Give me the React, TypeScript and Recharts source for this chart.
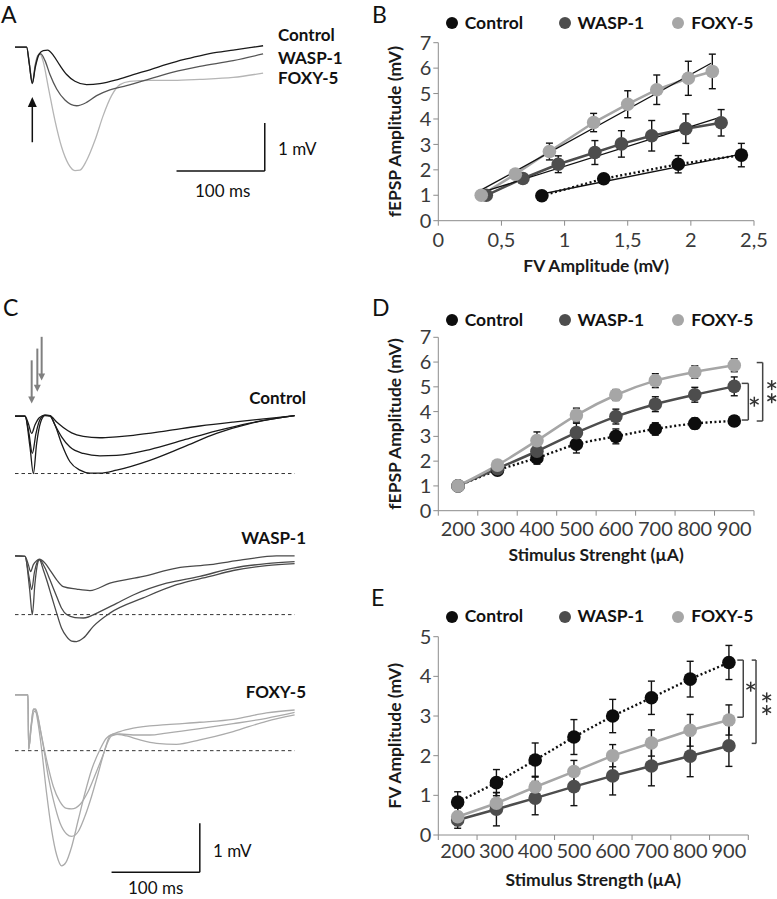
import { LineChart, Line, XAxis, YAxis, ErrorBar, ReferenceLine, ReferenceDot } from 'recharts';

const FONT = 'Lato, "Open Sans", sans-serif';
const BLACK = '#0d0d0d';
const DARK = '#4d4d4d';
const LIGHT = '#a6a6a6';
const AXIS = '#8c8c8c';
const TICK_TXT = '#3a3a3a';

// ---- panel A traces: [ms, mV]
const A_CONTROL = [[0,0],[13.2,0],[16.2,-0.35],[19.6,-0.75],[23,-0.42],[27.5,-0.14],[32,-0.07],[37,-0.06],[43.4,-0.17],[50.9,-0.38],[58.5,-0.57],[67.9,-0.71],[81.1,-0.78],[96.2,-0.76],[115.1,-0.68],[134,-0.57],[152.8,-0.47],[171.7,-0.36],[190.6,-0.26],[209.4,-0.18],[228.3,-0.11],[247.2,-0.06],[266,-0.01],[281.1,0.03]];
const A_WASP = [[0,0],[13.2,0],[16.2,-0.35],[19.6,-0.76],[23,-0.38],[26.4,-0.17],[29.1,-0.14],[34,-0.28],[39.6,-0.57],[47.2,-0.87],[56.6,-1.1],[69.8,-1.22],[81.1,-1.15],[92.5,-1.01],[107.5,-0.89],[126.4,-0.8],[152.8,-0.66],[179.2,-0.52],[209.4,-0.4],[247.2,-0.28],[281.1,-0.14]];
const A_FOXY = [[0,0],[13.2,0],[16.2,-0.31],[19.6,-0.73],[23,-0.35],[25.7,-0.17],[28.3,-0.14],[32.1,-0.31],[37.7,-0.83],[45.3,-1.53],[52.8,-2.08],[60.4,-2.43],[67.9,-2.57],[73.6,-2.56],[81.1,-2.36],[90.6,-1.94],[100,-1.42],[109.4,-1.01],[118.9,-0.78],[130.2,-0.71],[152.8,-0.69],[179.2,-0.69],[209.4,-0.67],[247.2,-0.63],[281.1,-0.54]];

// ---- panel C traces (three stimulus strengths per group)
const C_CTRL_1 = [[0,0],[11.3,0],[15.1,-0.15],[18.9,-0.35],[22.6,-0.18],[27.5,-0.03],[34,0.02],[39.6,0.01],[47.2,-0.12],[54.7,-0.23],[64.2,-0.34],[77.4,-0.41],[96.2,-0.44],[115.1,-0.42],[134,-0.39],[171.7,-0.3],[209.4,-0.2],[247.2,-0.12],[284.9,-0.05],[317,0.01]];
const C_CTRL_2 = [[0,0],[11.3,0],[15.8,-0.35],[19.6,-0.76],[23.8,-0.35],[28.3,-0.07],[34,0.02],[39.6,0.01],[45.3,-0.18],[52.8,-0.42],[62.3,-0.63],[77.4,-0.76],[96.2,-0.81],[115.1,-0.8],[152.8,-0.68],[190.6,-0.49],[228.3,-0.3],[266,-0.14],[317,0.01]];
const C_CTRL_3 = [[0,0],[11.3,0],[17,-0.63],[20.8,-1.17],[24.5,-0.56],[29.1,-0.12],[34,0.01],[39.6,0],[45.3,-0.18],[52.8,-0.56],[62.3,-0.93],[73.6,-1.1],[84.9,-1.16],[96.2,-1.16],[115.1,-1.1],[152.8,-0.9],[190.6,-0.63],[228.3,-0.35],[266,-0.15],[317,0.01]];
const C_WASP_1 = [[0,0],[11.3,-0.01],[15.1,-0.18],[17.7,-0.32],[20.8,-0.18],[24.5,-0.1],[27.5,-0.07],[34,-0.15],[39.6,-0.29],[47.2,-0.49],[54.7,-0.63],[69.8,-0.68],[84.9,-0.71],[107.5,-0.56],[145.3,-0.42],[183,-0.25],[220.8,-0.18],[258.5,-0.08],[296.2,0],[317,0]];
const C_WASP_2 = [[0,0],[11.3,-0.01],[15.8,-0.42],[18.9,-0.69],[21.9,-0.35],[25.3,-0.12],[27.5,-0.08],[34,-0.25],[39.6,-0.49],[47.2,-0.83],[52.8,-1.07],[58.5,-1.2],[67.9,-1.26],[77.4,-1.27],[96.2,-1.14],[115.1,-0.97],[134,-0.8],[171.7,-0.56],[209.4,-0.42],[247.2,-0.25],[284.9,-0.16],[317,-0.12]];
const C_WASP_3 = [[0,0],[11.3,-0.01],[16.6,-0.69],[19.6,-1.2],[22.6,-0.56],[25.7,-0.15],[27.5,-0.08],[32.1,-0.29],[35.8,-0.49],[41.5,-0.83],[47.2,-1.17],[52.8,-1.48],[58.5,-1.65],[64.2,-1.74],[69.8,-1.75],[77.4,-1.68],[88.7,-1.44],[107.5,-1.17],[145.3,-0.86],[183,-0.59],[220.8,-0.42],[247.2,-0.3],[284.9,-0.2],[317,-0.16]];
const C_FOXY_1 = [[0,0],[14.7,0],[15.5,-1.11],[18.1,-0.65],[20.8,-0.31],[23.4,-0.29],[26.4,-0.48],[30.2,-0.85],[35.8,-1.33],[43.4,-1.87],[50.9,-2.18],[58.5,-2.32],[64.2,-2.33],[73.6,-2.24],[83,-1.97],[92.5,-1.56],[100,-1.22],[107.5,-0.84],[118.9,-0.75],[134,-0.68],[171.7,-0.61],[209.4,-0.56],[247.2,-0.5],[284.9,-0.37],[317,-0.31]];
const C_FOXY_2 = [[0,0],[14.7,0],[15.5,-1.11],[18.5,-0.65],[21.9,-0.34],[24.5,-0.37],[28.3,-0.68],[32.1,-1.05],[37.7,-1.67],[43.4,-2.14],[50.9,-2.61],[58.5,-2.84],[64.2,-2.89],[71.7,-2.79],[79.2,-2.48],[86.8,-2.07],[94.3,-1.6],[101.9,-1.12],[109.4,-0.84],[118.9,-0.8],[134,-0.82],[152.8,-0.82],[171.7,-0.78],[209.4,-0.69],[247.2,-0.59],[284.9,-0.48],[317,-0.36]];
const C_FOXY_3 = [[0,0],[14.7,0],[15.5,-1.11],[18.5,-0.61],[20.8,-0.29],[23,-0.31],[26.4,-0.61],[30.2,-1.12],[35.8,-2.01],[41.5,-2.76],[47.2,-3.27],[52.8,-3.49],[57.7,-3.42],[64.2,-3.1],[71.7,-2.55],[79.2,-2.01],[86.8,-1.53],[96.2,-1.12],[103.8,-0.88],[113.2,-0.8],[126.4,-0.84],[141.5,-0.92],[160.4,-0.99],[183,-1.01],[209.4,-0.92],[247.2,-0.75],[284.9,-0.54],[317,-0.41]];

// ---- panel B: fEPSP vs FV
const B_CTRL_X = [0.82, 1.31, 1.9, 2.4];
const B_CTRL_Y = [0.98, 1.65, 2.22, 2.58];
const B_CTRL_E = [0.05, 0.1, 0.34, 0.46];
const B_WASP_X = [0.38, 0.67, 0.95, 1.24, 1.45, 1.69, 1.96, 2.24];
const B_WASP_Y = [1.0, 1.66, 2.22, 2.68, 3.02, 3.34, 3.62, 3.85];
const B_WASP_E = [0.05, 0.1, 0.33, 0.47, 0.52, 0.6, 0.58, 0.52];
const B_FOXY_X = [0.34, 0.61, 0.88, 1.23, 1.5, 1.73, 1.98, 2.17];
const B_FOXY_Y = [1.0, 1.83, 2.72, 3.86, 4.58, 5.15, 5.6, 5.87];
const B_FOXY_E = [0.05, 0.1, 0.33, 0.36, 0.53, 0.58, 0.67, 0.68];
const B_FIT_CTRL = [[0.82, 1.05], [2.4, 2.62]];
const B_FIT_WASP = [[0.36, 1.14], [2.23, 4.06]];
const B_FIT_FOXY = [[0.33, 1.18], [2.16, 6.19]];

// ---- panels D and E: stimulus strength (µA)
const STIM = [200, 300, 400, 500, 600, 700, 800, 900];
const D_CTRL = [1.0, 1.63, 2.13, 2.68, 3.0, 3.3, 3.52, 3.62];
const D_CTRL_E = [0.05, 0.1, 0.25, 0.35, 0.3, 0.25, 0.22, 0.2];
const D_WASP = [1.0, 1.7, 2.4, 3.15, 3.8, 4.3, 4.68, 5.02];
const D_WASP_E = [0.05, 0.1, 0.3, 0.38, 0.3, 0.3, 0.3, 0.38];
const D_FOXY = [1.0, 1.84, 2.83, 3.86, 4.67, 5.25, 5.6, 5.87];
const D_FOXY_E = [0.05, 0.1, 0.35, 0.28, 0.22, 0.28, 0.25, 0.26];
const E_CTRL = [0.83, 1.32, 1.89, 2.47, 3.0, 3.46, 3.93, 4.35];
const E_CTRL_E = [0.26, 0.33, 0.43, 0.44, 0.42, 0.42, 0.45, 0.43];
const E_WASP = [0.38, 0.65, 0.93, 1.22, 1.49, 1.74, 1.99, 2.25];
const E_WASP_E = [0.21, 0.42, 0.42, 0.48, 0.48, 0.5, 0.52, 0.52];
const E_FOXY = [0.46, 0.8, 1.21, 1.6, 2.0, 2.32, 2.64, 2.9];
const E_FOXY_E = [0.22, 0.27, 0.27, 0.28, 0.28, 0.33, 0.4, 0.38];

const GROUPS = [
  { name: 'Control', color: BLACK },
  { name: 'WASP-1', color: DARK },
  { name: 'FOXY-5', color: LIGHT },
];

const pts = (a: number[][]) => a.map(([x, y]) => ({ x, y }));
const zipE = (xs: number[], ys: number[], es: number[]) => xs.map((x, i) => ({ x, y: ys[i], e: es[i] }));

function Txt({ x, y, children, size = 17, bold = false, align = 'left', color = '#111' }: any) {
  const style: any = {
    position: 'absolute', top: y - size * 0.53, fontSize: size, lineHeight: `${size}px`,
    fontWeight: bold ? 700 : 400, color, whiteSpace: 'nowrap', fontFamily: FONT,
  };
  if (align === 'left') style.left = x;
  else style.right = 777 - x;
  return <div style={style}>{children}</div>;
}

// panel letter; line box = content box so nothing sticks out above the top
function Letter({ x, top, children }: any) {
  return (
    <div style={{ position: 'absolute', left: x, top, fontSize: 23, lineHeight: '27.6px', color: '#111', fontFamily: FONT }}>
      {children}
    </div>
  );
}

function LegendRow({ y }: { y: number }) {
  const xs = [451.7, 564.5, 678.3];
  return (
    <>
      {GROUPS.map((g, i) => (
        <div key={g.name}>
          <div style={{ position: 'absolute', left: xs[i] - 6, top: y - 6, width: 12, height: 12, borderRadius: '50%', background: g.color }} />
          <Txt x={xs[i] + 13} y={y} bold size={17.5}>{g.name}</Txt>
        </div>
      ))}
    </>
  );
}

function arrowHead(up: boolean, color: string, w: number, h: number) {
  return (p: any) => {
    const { cx, cy } = p;
    const b = up ? cy + h : cy - h;
    return <polygon points={`${cx - w / 2},${b} ${cx + w / 2},${b} ${cx},${cy}`} fill={color} />;
  };
}

function asterisk(p: any) {
  const { cx, cy } = p;
  const r = 5;
  const lines = [90, 30, -30].map((a) => {
    const dx = r * Math.cos((a * Math.PI) / 180);
    const dy = r * Math.sin((a * Math.PI) / 180);
    return <line key={a} x1={cx - dx} y1={cy - dy} x2={cx + dx} y2={cy + dy} stroke="#333" strokeWidth={1.5} />;
  });
  return <g>{lines}</g>;
}

function bracket(key: string, x0: number, x1: number, yTop: number, yBot: number, stars: number[][]) {
  const s = { stroke: '#444', strokeWidth: 1.5, ifOverflow: 'visible' as const };
  return [
    <ReferenceLine key={key + 't'} segment={[{ x: x0, y: yTop }, { x: x1, y: yTop }]} {...s} />,
    <ReferenceLine key={key + 'v'} segment={[{ x: x1, y: yTop }, { x: x1, y: yBot }]} {...s} />,
    <ReferenceLine key={key + 'b'} segment={[{ x: x0, y: yBot }, { x: x1, y: yBot }]} {...s} />,
    ...stars.map(([sx, sy], i) => (
      <ReferenceDot key={key + 's' + i} x={sx} y={sy} r={0} ifOverflow="visible" shape={asterisk} />
    )),
  ];
}

function TraceChart({ left, top, xMax, pxPerMs, pxPerMv, yDomain, traces, children }: any) {
  const width = xMax * pxPerMs;
  const height = (yDomain[1] - yDomain[0]) * pxPerMv;
  return (
    <div style={{ position: 'absolute', left, top }}>
      <LineChart width={width} height={height} margin={{ top: 0, right: 0, bottom: 0, left: 0 }} style={{ overflow: 'visible' }}>
        <XAxis type="number" dataKey="x" domain={[0, xMax]} hide allowDataOverflow />
        <YAxis type="number" dataKey="y" domain={yDomain} hide allowDataOverflow />
        {children}
        {traces.map((t: any, i: number) => (
          <Line key={i} data={pts(t.data)} dataKey="y" type="monotone" stroke={t.color} strokeWidth={1.3} dot={false} isAnimationActive={false} />
        ))}
      </LineChart>
    </div>
  );
}

const tickStyle = { fontSize: 20, fill: TICK_TXT, fontFamily: FONT };
const titleStyle = { fontSize: 17.5, fontWeight: 700, fill: '#1a1a1a', fontFamily: FONT };

function yAxisFor(max: number, title: string) {
  const ticks = Array.from({ length: max + 1 }, (_, i) => i);
  return (
    <YAxis
      type="number" domain={[0, max]} ticks={ticks} interval={0} width={58.3} tickSize={5}
      tick={tickStyle} tickLine={{ stroke: AXIS }} axisLine={{ stroke: AXIS }} allowDataOverflow
      label={{ value: title, angle: -90, position: 'insideLeft', offset: 15, style: { textAnchor: 'middle' }, ...titleStyle }}
    />
  );
}

function StimChart({ top, marginTop, plotH, right, yMax, yTitle, xTitle, tickMargin, titleOffset, series, curve, extra }: any) {
  const plotW = 777 - right - 438.3;
  const half = plotW / 16;
  return (
    <div style={{ position: 'absolute', left: 380, top }}>
      <LineChart width={397} height={marginTop + plotH + 55} margin={{ top: marginTop, right, bottom: 0, left: 0 }}>
        <XAxis
          type="number" dataKey="x" domain={[150, 950]} ticks={[150, 250, 350, 450, 550, 650, 750, 850, 950]} interval={0}
          height={55} tickSize={5} tickMargin={tickMargin} tickLine={{ stroke: AXIS }} axisLine={{ stroke: AXIS }} allowDataOverflow
          tick={(p: any) => (p.payload.value >= 950 ? <g /> : (
            <text x={p.x + half} y={p.y} dy="0.71em" textAnchor="middle" {...tickStyle}>{p.payload.value + 50}</text>
          ))}
          label={{ value: xTitle, position: 'insideBottom', offset: titleOffset, ...titleStyle }}
        />
        {yAxisFor(yMax, yTitle)}
        {series.map((s: any, i: number) => (
          <Line
            key={i} data={zipE(STIM, s.y, s.e)} dataKey="y" type={curve} stroke={s.color}
            strokeWidth={s.dotted ? 2.4 : 2.5} strokeDasharray={s.dotted ? '2 2.5' : undefined}
            dot={{ r: 6.8, fill: s.color, stroke: s.color, strokeWidth: 0 }} isAnimationActive={false}
          >
            <ErrorBar dataKey="e" direction="y" width={3.5} stroke="#111" strokeWidth={1.4} />
          </Line>
        ))}
        {extra}
      </LineChart>
    </div>
  );
}

export default function App() {
  return (
    <div style={{ position: 'absolute', left: 0, top: 0, width: 777, height: 899, background: '#fff', overflow: 'hidden', fontFamily: FONT }}>
      {/* panel letters */}
      <Letter x={1} top={0.5}>A</Letter>
      <Letter x={372} top={0.5}>B</Letter>
      <Letter x={3} top={294}>C</Letter>
      <Letter x={372} top={294}>D</Letter>
      <Letter x={371} top={584}>E</Letter>

      {/* A */}
      <TraceChart
        left={15} top={27.8} xMax={290} pxPerMs={0.8826} pxPerMv={48} yDomain={[-2.8, 0.4]}
        traces={[{ data: A_FOXY, color: '#b5b5b5' }, { data: A_WASP, color: '#555' }, { data: A_CONTROL, color: '#1a1a1a' }]}
      >
        <ReferenceLine segment={[{ x: 183, y: -2.58 }, { x: 283, y: -2.58 }]} stroke="#111" strokeWidth={1.5} ifOverflow="visible" />
        <ReferenceLine segment={[{ x: 283, y: -1.58 }, { x: 283, y: -2.58 }]} stroke="#111" strokeWidth={1.5} ifOverflow="visible" />
        <ReferenceLine segment={[{ x: 19.6, y: -1.98 }, { x: 19.6, y: -1.22 }]} stroke="#111" strokeWidth={1.5} ifOverflow="visible" />
        <ReferenceDot x={19.6} y={-1.04} r={0} ifOverflow="visible" shape={arrowHead(true, '#111', 9, 10)} />
      </TraceChart>
      <Txt x={278} y={35.5} bold>Control</Txt>
      <Txt x={278} y={58} bold>WASP-1</Txt>
      <Txt x={278} y={78.3} bold>FOXY-5</Txt>
      <Txt x={278} y={149}>1 mV</Txt>
      <Txt x={195} y={191}>100 ms</Txt>

      {/* C */}
      <TraceChart
        left={15} top={327.8} xMax={317} pxPerMs={0.8826} pxPerMv={49} yDomain={[-1.4, 1.8]}
        traces={[C_CTRL_1, C_CTRL_2, C_CTRL_3].map((d) => ({ data: d, color: '#1a1a1a' }))}
      >
        <ReferenceLine segment={[{ x: 0, y: -1.17 }, { x: 317, y: -1.17 }]} stroke="#333" strokeWidth={1} strokeDasharray="3.5 3" ifOverflow="visible" />
        <ReferenceLine segment={[{ x: 18.9, y: 1.14 }, { x: 18.9, y: 0.38 }]} stroke="#808080" strokeWidth={2} />
        <ReferenceDot x={18.9} y={0.26} r={0} ifOverflow="visible" shape={arrowHead(false, '#808080', 7, 7)} />
        <ReferenceLine segment={[{ x: 25.3, y: 1.38 }, { x: 25.3, y: 0.62 }]} stroke="#808080" strokeWidth={2} />
        <ReferenceDot x={25.3} y={0.5} r={0} ifOverflow="visible" shape={arrowHead(false, '#808080', 7, 7)} />
        <ReferenceLine segment={[{ x: 30.2, y: 1.62 }, { x: 30.2, y: 0.85 }]} stroke="#808080" strokeWidth={2} />
        <ReferenceDot x={30.2} y={0.73} r={0} ifOverflow="visible" shape={arrowHead(false, '#808080', 7, 7)} />
      </TraceChart>
      <Txt x={306} y={398.3} bold align="right">Control</Txt>

      <TraceChart
        left={15} top={546.2} xMax={317} pxPerMs={0.8826} pxPerMv={49} yDomain={[-1.9, 0.2]}
        traces={[C_WASP_1, C_WASP_2, C_WASP_3].map((d) => ({ data: d, color: '#4a4a4a' }))}
      >
        <ReferenceLine segment={[{ x: 0, y: -1.2 }, { x: 317, y: -1.2 }]} stroke="#333" strokeWidth={1} strokeDasharray="3.5 3" ifOverflow="visible" />
      </TraceChart>
      <Txt x={306} y={538.3} bold align="right">WASP-1</Txt>

      <TraceChart
        left={15} top={685.2} xMax={317} pxPerMs={0.8826} pxPerMv={49} yDomain={[-3.8, 0.2]}
        traces={[C_FOXY_1, C_FOXY_2, C_FOXY_3].map((d) => ({ data: d, color: '#ababab' }))}
      >
        <ReferenceLine segment={[{ x: 0, y: -1.14 }, { x: 317, y: -1.14 }]} stroke="#333" strokeWidth={1} strokeDasharray="3.5 3" ifOverflow="visible" />
        <ReferenceLine segment={[{ x: 109.4, y: -3.62 }, { x: 209.4, y: -3.62 }]} stroke="#111" strokeWidth={1.5} ifOverflow="visible" />
        <ReferenceLine segment={[{ x: 209.4, y: -2.62 }, { x: 209.4, y: -3.62 }]} stroke="#111" strokeWidth={1.5} ifOverflow="visible" />
      </TraceChart>
      <Txt x={306} y={691.7} bold align="right">FOXY-5</Txt>
      <Txt x={213} y={851}>1 mV</Txt>
      <Txt x={128} y={888.5}>100 ms</Txt>

      {/* B */}
      <LegendRow y={23.3} />
      <div style={{ position: 'absolute', left: 380, top: 0 }}>
        <LineChart width={397} height={42.7 + 178 + 60} margin={{ top: 42.7, right: 23, bottom: 0, left: 0 }}>
          <XAxis
            type="number" dataKey="x" domain={[0, 2.5]} ticks={[0, 0.5, 1, 1.5, 2, 2.5]} interval={0}
            tickFormatter={(v: number) => String(v).replace('.', ',')}
            height={60} tickSize={5} tickMargin={7} tick={tickStyle} tickLine={{ stroke: AXIS }} axisLine={{ stroke: AXIS }} allowDataOverflow
            label={{ value: 'FV Amplitude (mV)', position: 'insideBottom', offset: 8.7, ...titleStyle }}
          />
          {yAxisFor(7, 'fEPSP Amplitude (mV)')}
          <Line data={zipE(B_CTRL_X, B_CTRL_Y, B_CTRL_E)} dataKey="y" stroke={BLACK} strokeWidth={2.4} strokeDasharray="2 2.5"
            dot={{ r: 6.8, fill: BLACK, strokeWidth: 0 }} isAnimationActive={false}>
            <ErrorBar dataKey="e" direction="y" width={3.5} stroke="#111" strokeWidth={1.4} />
          </Line>
          <Line data={zipE(B_WASP_X, B_WASP_Y, B_WASP_E)} dataKey="y" stroke={DARK} strokeWidth={2.5}
            dot={{ r: 6.8, fill: DARK, strokeWidth: 0 }} isAnimationActive={false}>
            <ErrorBar dataKey="e" direction="y" width={3.5} stroke="#111" strokeWidth={1.4} />
          </Line>
          <Line data={zipE(B_FOXY_X, B_FOXY_Y, B_FOXY_E)} dataKey="y" stroke={LIGHT} strokeWidth={2.5}
            dot={{ r: 6.8, fill: LIGHT, strokeWidth: 0 }} isAnimationActive={false}>
            <ErrorBar dataKey="e" direction="y" width={3.5} stroke="#111" strokeWidth={1.4} />
          </Line>
          {[B_FIT_CTRL, B_FIT_WASP, B_FIT_FOXY].map((f, i) => (
            <Line key={i} data={pts(f)} dataKey="y" stroke="#111" strokeWidth={1.3} dot={false} isAnimationActive={false} />
          ))}
        </LineChart>
      </div>

      {/* D */}
      <LegendRow y={320} />
      <StimChart
        top={300} marginTop={37.3} plotH={173.4} right={23} yMax={7} tickMargin={6} titleOffset={4.7}
        yTitle="fEPSP Amplitude (mV)" xTitle="Stimulus Strenght (µA)" curve="monotone"
        series={[
          { y: D_CTRL, e: D_CTRL_E, color: BLACK, dotted: true },
          { y: D_WASP, e: D_WASP_E, color: DARK },
          { y: D_FOXY, e: D_FOXY_E, color: LIGHT },
        ]}
        extra={[
          ...bracket('d1', 918.9, 935.6, 5.14, 3.66, [[950.8, 4.4]]),
          ...bracket('d2', 956.9, 972, 5.98, 3.62, [[994.9, 5.07], [994.9, 4.54]]),
        ]}
      />

      {/* E */}
      <LegendRow y={616.7} />
      <StimChart
        top={590} marginTop={46.7} plotH={198.3} right={28.7} yMax={5} tickMargin={4} titleOffset={4}
        yTitle="FV Amplitude (mV)" xTitle="Stimulus Strength (µA)" curve="linear"
        series={[
          { y: E_CTRL, e: E_CTRL_E, color: BLACK, dotted: true },
          { y: E_WASP, e: E_WASP_E, color: DARK },
          { y: E_FOXY, e: E_FOXY_E, color: LIGHT },
        ]}
        extra={[
          ...bracket('e1', 921.6, 937, 4.41, 2.97, [[956.2, 3.74]]),
          ...bracket('e2', 958.8, 969.9, 4.41, 2.31, [[997.5, 3.47], [997.5, 3.15]]),
        ]}
      />
    </div>
  );
}
